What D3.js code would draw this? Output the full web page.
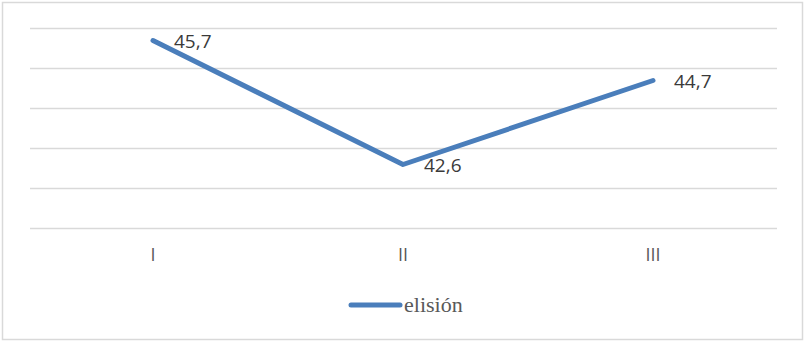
<!DOCTYPE html>
<html><head><meta charset="utf-8">
<script src="https://cdn.jsdelivr.net/npm/d3@7"></script>
<style>body{margin:0;background:#fff}svg{display:block}</style>
</head><body>
<svg id="chart" width="806" height="343"></svg>
<script>
const categories = ["I", "II", "III"];
const values = [45.7, 42.6, 44.7];
const valueLabels = ["45,7", "42,6", "44,7"];
const yTicks = [41, 42, 43, 44, 45, 46];
const seriesName = "elisión";

const svg = d3.select("#chart");
svg.append("rect").attr("x", 2.5).attr("y", 2.5).attr("width", 800).attr("height", 337)
  .attr("fill", "#fff").attr("stroke", "#d9d9d9").attr("stroke-width", 1.5);

const x = d3.scaleBand().domain(categories).range([28, 778]);
const y = d3.scaleLinear().domain([41, 46]).range([228.5, 28.5]);

const grid = svg.append("g");
grid.selectAll("line").data(yTicks).join("line")
  .attr("x1", 30).attr("x2", 777)
  .attr("y1", d => y(d)).attr("y2", d => y(d))
  .attr("stroke", "#d9d9d9").attr("stroke-width", 1.5);

const xAxis = svg.append("g").attr("transform", `translate(0,${y(41)})`)
  .call(d3.axisBottom(x).tickSize(0).tickPadding(20));
xAxis.select(".domain").remove();
xAxis.selectAll("text").style("font-family", "'Open Sans', sans-serif").style("font-size", "18px")
  .attr("fill", "#595959");

const line = d3.line().x((d, i) => x(categories[i]) + x.bandwidth() / 2).y(d => y(d));
svg.append("path").datum(values).attr("d", line).attr("fill", "none")
  .attr("stroke", "#4a7ebb").attr("stroke-width", 5).attr("stroke-linecap", "round")
  .attr("stroke-linejoin", "round");

svg.append("g").selectAll("text").data(values).join("text")
  .attr("x", (d, i) => x(categories[i]) + x.bandwidth() / 2 + 21)
  .attr("y", d => y(d) + 2)
  .attr("dominant-baseline", "middle")
  .style("font-family", "'Open Sans', sans-serif").style("font-size", "19px")
  .attr("fill", "#3a3a3a")
  .text((d, i) => valueLabels[i]);

const lg = svg.append("g");
lg.append("line").attr("x1", 351).attr("x2", 400).attr("y1", 305).attr("y2", 305)
  .attr("stroke", "#4a7ebb").attr("stroke-width", 5).attr("stroke-linecap", "round");
lg.append("text").attr("x", 404).attr("y", 312)
  .style("font-family", "'Liberation Serif', 'DejaVu Serif', Times, serif").style("font-size", "22px")
  .attr("fill", "#595959").text(seriesName);
</script>
</body></html>
